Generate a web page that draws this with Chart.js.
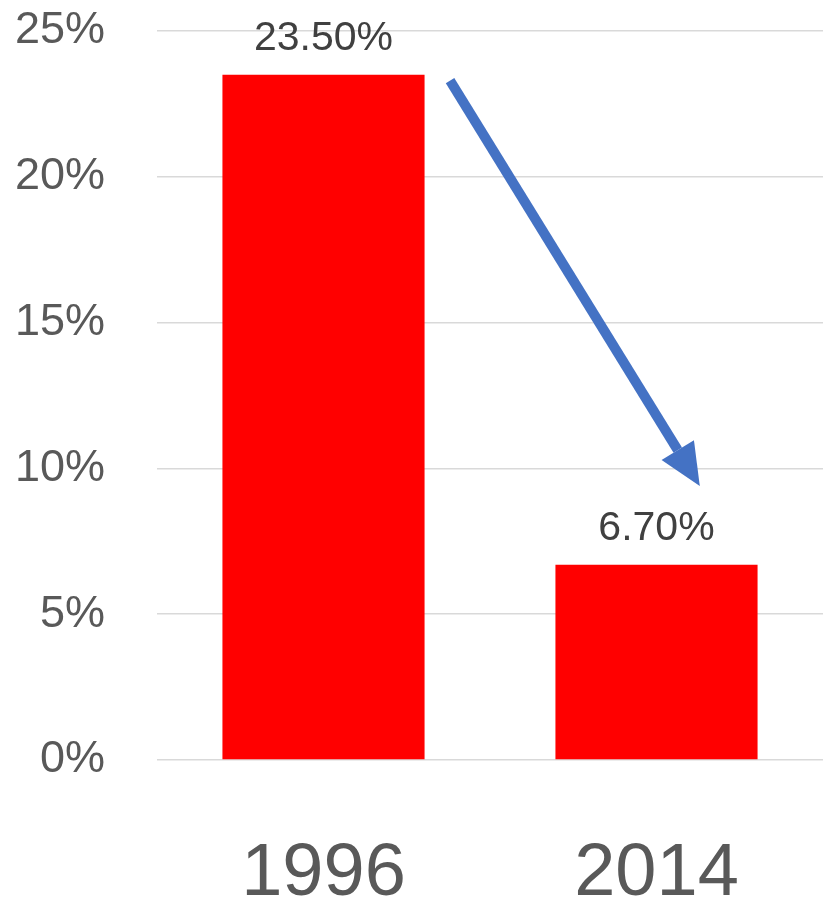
<!DOCTYPE html>
<html>
<head>
<meta charset="utf-8">
<script src="https://cdn.jsdelivr.net/npm/chart.js@4"></script>
<style>
  html, body { margin: 0; padding: 0; background: #fff; }
  #wrap { width: 823px; height: 898px; }
</style>
</head>
<body>
<div id="wrap"><canvas id="chart" width="823" height="898"></canvas></div>
<script>
// dados
const anos = ["1996", "2014"];
const valores = [23.5, 6.7];
const ticksY = [0, 5, 10, 15, 20, 25];

// seta: inicio e fim em unidades do grafico (indice da categoria, %)
const setaInicio = [0.38, 23.3];
const setaFim = [1.13, 9.4];

// rotulos em cima das barras
const rotulos = {
  id: "rotulos",
  afterDatasetsDraw(chart) {
    const ctx = chart.ctx;
    const meta = chart.getDatasetMeta(0);
    ctx.save();
    ctx.font = "41px 'Liberation Sans'";
    ctx.fillStyle = "#404040";
    ctx.textAlign = "center";
    ctx.textBaseline = "alphabetic";
    meta.data.forEach((bar, i) => {
      ctx.fillText(valores[i].toFixed(2) + "%", bar.x, bar.y - 25);
    });
    ctx.restore();
  }
};

// seta azul
const seta = {
  id: "seta",
  afterDatasetsDraw(chart) {
    const x = chart.scales.x, y = chart.scales.y;
    const x1 = x.getPixelForValue(setaInicio[0]), y1 = y.getPixelForValue(setaInicio[1]);
    const x2 = x.getPixelForValue(setaFim[0]), y2 = y.getPixelForValue(setaFim[1]);
    const ang = Math.atan2(y2 - y1, x2 - x1);
    const cab = 42, meia = 19;
    const bx = x2 - cab * Math.cos(ang), by = y2 - cab * Math.sin(ang);
    const ctx = chart.ctx;
    ctx.save();
    ctx.strokeStyle = "#4472C4";
    ctx.fillStyle = "#4472C4";
    ctx.lineWidth = 10;
    ctx.beginPath();
    ctx.moveTo(x1, y1);
    ctx.lineTo(bx, by);
    ctx.stroke();
    ctx.beginPath();
    ctx.moveTo(x2, y2);
    ctx.lineTo(bx + meia * Math.sin(ang), by - meia * Math.cos(ang));
    ctx.lineTo(bx - meia * Math.sin(ang), by + meia * Math.cos(ang));
    ctx.closePath();
    ctx.fill();
    ctx.restore();
  }
};

new Chart(document.getElementById("chart"), {
  type: "bar",
  data: {
    labels: anos,
    datasets: [{
      data: valores,
      backgroundColor: "#FF0000",
      categoryPercentage: 1,
      barPercentage: 0.607
    }]
  },
  options: {
    responsive: false,
    animation: false,
    layout: { padding: { top: 31, right: 0, left: 0, bottom: 0 } },
    plugins: {
      legend: { display: false },
      tooltip: { enabled: false }
    },
    scales: {
      x: {
        grid: { display: false },
        border: { display: false },
        ticks: {
          color: "#595959",
          font: { family: "'Liberation Sans'", size: 74 },
          padding: 62
        },
        afterFit(s) { s.height = 138; s.paddingLeft = 0; s.paddingRight = 0; }
      },
      y: {
        min: 0,
        max: 25,
        afterBuildTicks(s) { s.ticks = ticksY.map(v => ({ value: v })); },
        grid: { color: "#d9d9d9", lineWidth: 1.5, drawTicks: false },
        border: { display: false },
        ticks: {
          color: "#595959",
          font: { family: "'Liberation Sans'", size: 45 },
          padding: 52,
          callback: v => v + "%"
        },
        afterFit(s) { s.width = 157; s.paddingTop = 0; s.paddingBottom = 0; }
      }
    }
  },
  plugins: [rotulos, seta]
});
</script>
</body>
</html>
